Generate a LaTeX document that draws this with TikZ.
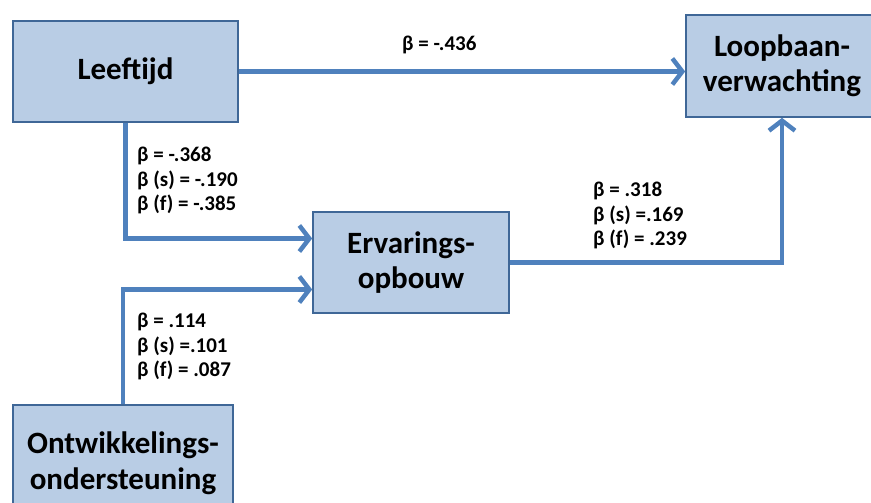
\documentclass[tikz,border=0pt]{standalone}
\usepackage{fontspec}
\setmainfont{Carlito}
\usetikzlibrary{arrows.meta, positioning, calc}
\definecolor{boxfill}{HTML}{B9CDE5}
\definecolor{boxline}{HTML}{3F6797}
\definecolor{pathblue}{HTML}{4F81BD}
\tikzset{
    varbox/.style={draw=boxline, line width=1.6pt, fill=boxfill, align=center,
        font=\fontsize{31}{35.5}\selectfont\bfseries, inner sep=0pt},
    pathline/.style={draw=pathblue, line width=4.5pt,
        -{Straight Barb[length=10pt,width=26pt,line width=4.5pt]}},
    coef/.style={anchor=north west, align=left, inner sep=0pt,
        font=\fontsize{21}{24.5}\selectfont\bfseries}
}
\begin{document}
\begin{tikzpicture}[x=1pt, y=-1pt]
    \useasboundingbox (0,0) rectangle (871,503);
    \begin{scope}
    \clip (0,0) rectangle (871,503);
    % variables
    \node[varbox, minimum width=225pt, minimum height=101pt] (leeftijd) at (125.5,71.5) {Leeftijd};
    \node[varbox, minimum width=192pt, minimum height=102pt] (loopbaan) at (782,66) {Loopbaan-\\verwachting};
    \node[varbox, minimum width=196pt, minimum height=101pt] (ervaring) at (411,262.5) {Ervarings-\\opbouw};
    \node[varbox, minimum width=220pt, minimum height=116pt] (ontwikkeling) at (123,463) {Ontwikkelings-\\ondersteuning};
    % paths
    \draw[pathline] (leeftijd.east) -- (loopbaan.west |- leeftijd.east);
    \draw[pathline] (leeftijd.south) |- ([yshift=24pt]ervaring.west);
    \draw[pathline] (ontwikkeling.north) |- ([yshift=-27pt]ervaring.west);
    \draw[pathline] (ervaring.east) -| (loopbaan.south);
    \end{scope}
    % coefficients
    \node[coef] (c1) at (402,36) {β = -.436};
    \node[coef] (c2) at (137,147) {β = -.368\\β (s) = -.190\\β (f) = -.385};
    \node[coef] (c3) at (593,182) {β = .318\\β (s) =.169\\β (f) = .239};
    \node[coef] (c4) at (137,313) {β = .114\\β (s) =.101\\β (f) = .087};
\end{tikzpicture}
\end{document}
